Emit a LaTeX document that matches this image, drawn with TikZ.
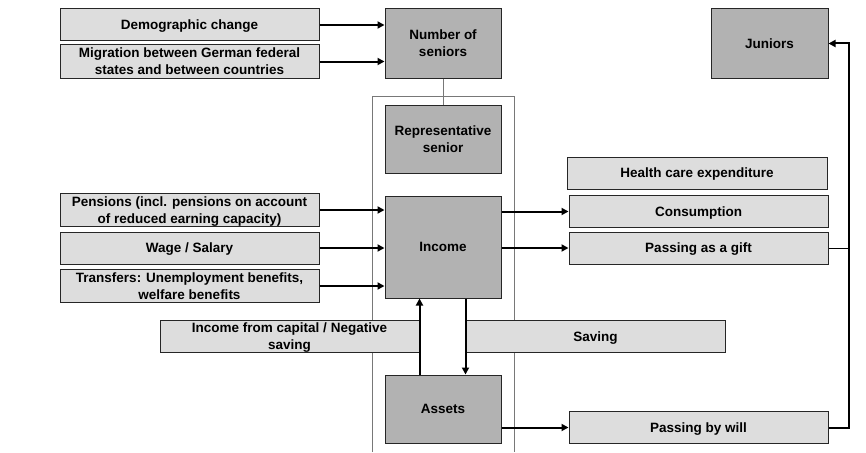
\documentclass[tikz,border=0pt]{standalone}
\usepackage{fontspec}
\setmainfont{Liberation Sans}
\usetikzlibrary{arrows.meta, calc, positioning}
\definecolor{boxlight}{RGB}{221,221,221}
\definecolor{boxdark}{RGB}{178,178,178}
\definecolor{framegray}{RGB}{120,120,120}

\begin{document}
\begin{tikzpicture}[x=1pt, y=-1pt,
    every node/.style={font=\fontsize{13.5}{17}\selectfont\bfseries, align=center, inner sep=0pt,
        text height=12.5pt, text depth=2.9pt},
    twoline/.style={text height=29.5pt},
    lightbox/.style={draw=black!85, line width=1pt, fill=boxlight, minimum width=259pt, minimum height=32pt},
    darkbox/.style={draw=black!85, line width=1pt, fill=boxdark, minimum width=116pt},
    flow/.style={-{Triangle[length=7pt,width=7pt]}, line width=2pt}]
    \useasboundingbox (0,0) rectangle (866,452);

    % Frame around the representative senior
    \draw[framegray, line width=0.8pt] (372,452) -- (372,96) -- (514,96) -- (514,452);

    % Inputs on the left
    \node[lightbox] (demo) at (189.5,25) {Demographic change};
    \node[lightbox, twoline, minimum height=33pt] (migr) at (189.5,61.5) {Migration between German federal\\states and between countries};
    \node[lightbox, twoline] (pens) at (189.5,210) {Pensions (incl. pensions on account\\of reduced earning capacity)};
    \node[lightbox] (wage) at (189.5,248) {Wage / Salary};
    \node[lightbox, twoline] (trans) at (189.5,286) {Transfers: Unemployment benefits,\\welfare benefits};
    \node[lightbox, twoline] (capinc) at (289.5,336.5) {Income from capital / Negative\\saving};
    \node[lightbox] (saving) at (595.5,336.5) {Saving};

    % Central column
    \node[darkbox, twoline, minimum height=69pt] (seniors) at (443,43.5) {Number of\\seniors};
    \node[darkbox, twoline, minimum height=68pt] (repr) at (443,139) {Representative\\senior};
    \node[darkbox, minimum height=102pt] (income) at (443,247) {Income};
    \node[darkbox, minimum height=68pt] (assets) at (443,409) {Assets};

    % Outputs on the right
    \node[lightbox, minimum width=260pt] (health) at (697,173) {Health care expenditure};
    \node[lightbox] (cons) at (698.5,211.5) {Consumption};
    \node[lightbox] (gift) at (698.5,248) {Passing as a gift};
    \node[lightbox] (will) at (698.5,427.5) {Passing by will};
    \node[darkbox, minimum width=117pt, minimum height=69pt] (juniors) at (769.5,43.5) {Juniors};
    \coordinate (bus) at (849,0);

    % Connectors
    \draw[framegray, line width=0.8pt] (seniors.south) -- (repr.north);
    \draw[flow] (demo.east) -- (demo.east -| seniors.west);
    \draw[flow] (migr.east) -- (migr.east -| seniors.west);
    \draw[flow] (pens.east) -- (pens.east -| income.west);
    \draw[flow] (wage.east) -- (wage.east -| income.west);
    \draw[flow] (trans.east) -- (trans.east -| income.west);
    \draw[flow] (capinc.east |- assets.north) -- (capinc.east |- income.south);
    \draw[flow] (saving.west |- income.south) -- (saving.west |- assets.north);
    \draw[flow] (income.east |- cons.west) -- (cons.west);
    \draw[flow] (income.east |- gift.west) -- (gift.west);
    \draw[flow] (assets.east |- will.west) -- (will.west);
    \draw[line width=1pt] (gift.east) -- (gift.east -| bus);
    \draw[flow] (will.east) -- (will.east -| bus) |- (juniors.east);
\end{tikzpicture}
\end{document}
